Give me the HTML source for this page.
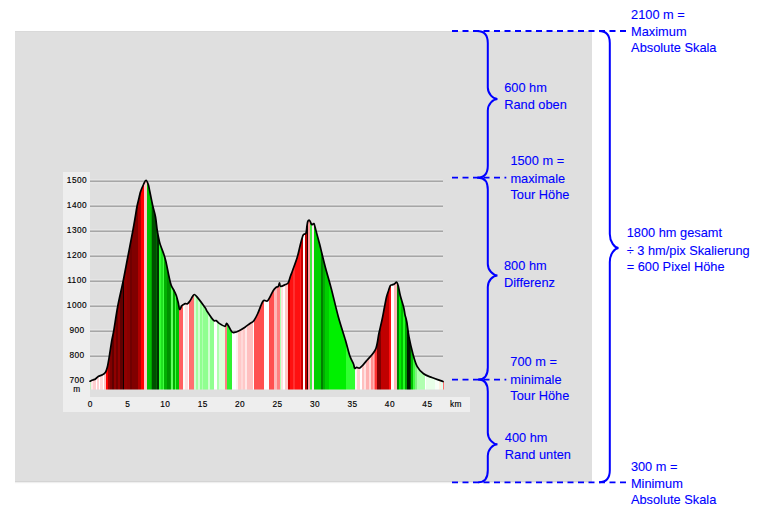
<!DOCTYPE html>
<html><head><meta charset="utf-8"><style>
html,body{margin:0;padding:0;background:#fff;width:759px;height:514px;overflow:hidden}
svg{display:block}
</style></head><body>
<svg width="759" height="514" viewBox="0 0 759 514">
<rect x="15" y="31" width="577" height="451" fill="#dfdfdf"/><rect x="15" y="481" width="577" height="1" fill="#d4d4d4"/><rect x="15" y="31" width="577" height="1" fill="#d9d9d9"/><rect x="15" y="482" width="577" height="1.2" fill="#efefef"/>
<rect x="63" y="172" width="27" height="240" fill="#eeeeee"/>
<rect x="63" y="397" width="407" height="15" fill="#eeeeee"/>
<g stroke="#e7e7e7" stroke-width="1"><line x1="90" y1="179.70000000000002" x2="443" y2="179.70000000000002"/><line x1="90" y1="182.9" x2="443" y2="182.9"/><line x1="90" y1="204.70000000000002" x2="443" y2="204.70000000000002"/><line x1="90" y1="207.9" x2="443" y2="207.9"/><line x1="90" y1="229.70000000000002" x2="443" y2="229.70000000000002"/><line x1="90" y1="232.9" x2="443" y2="232.9"/><line x1="90" y1="254.70000000000002" x2="443" y2="254.70000000000002"/><line x1="90" y1="257.90000000000003" x2="443" y2="257.90000000000003"/><line x1="90" y1="279.7" x2="443" y2="279.7"/><line x1="90" y1="282.90000000000003" x2="443" y2="282.90000000000003"/><line x1="90" y1="304.7" x2="443" y2="304.7"/><line x1="90" y1="307.90000000000003" x2="443" y2="307.90000000000003"/><line x1="90" y1="329.7" x2="443" y2="329.7"/><line x1="90" y1="332.90000000000003" x2="443" y2="332.90000000000003"/><line x1="90" y1="354.7" x2="443" y2="354.7"/><line x1="90" y1="357.90000000000003" x2="443" y2="357.90000000000003"/></g><g stroke="#a6a6a6" stroke-width="1.4"><line x1="90" y1="181.3" x2="443" y2="181.3"/><line x1="90" y1="206.3" x2="443" y2="206.3"/><line x1="90" y1="231.3" x2="443" y2="231.3"/><line x1="90" y1="256.3" x2="443" y2="256.3"/><line x1="90" y1="281.3" x2="443" y2="281.3"/><line x1="90" y1="306.3" x2="443" y2="306.3"/><line x1="90" y1="331.3" x2="443" y2="331.3"/><line x1="90" y1="356.3" x2="443" y2="356.3"/></g>
<g font-family="Liberation Sans, sans-serif" font-size="8.3" fill="#000" stroke="#000" stroke-width="0.15" letter-spacing="0.45"><text x="77" y="183.2" text-anchor="middle">1500</text><text x="77" y="208.2" text-anchor="middle">1400</text><text x="77" y="233.2" text-anchor="middle">1300</text><text x="77" y="258.2" text-anchor="middle">1200</text><text x="77" y="283.2" text-anchor="middle">1100</text><text x="77" y="308.2" text-anchor="middle">1000</text><text x="77" y="333.2" text-anchor="middle">900</text><text x="77" y="358.2" text-anchor="middle">800</text><text x="77" y="383.2" text-anchor="middle">700</text><text x="77" y="392" text-anchor="middle">m</text><text x="90.3" y="407" text-anchor="middle">0</text><text x="127.8" y="407" text-anchor="middle">5</text><text x="165.2" y="407" text-anchor="middle">10</text><text x="202.7" y="407" text-anchor="middle">15</text><text x="240.1" y="407" text-anchor="middle">20</text><text x="277.6" y="407" text-anchor="middle">25</text><text x="315.0" y="407" text-anchor="middle">30</text><text x="352.5" y="407" text-anchor="middle">35</text><text x="389.9" y="407" text-anchor="middle">40</text><text x="427.4" y="407" text-anchor="middle">45</text><text x="456" y="407" text-anchor="middle">km</text></g>
<clipPath id="cp"><path d="M90,381.2 C90.47,381.00 91.88,380.37 92.8,380 C93.72,379.63 94.60,379.60 95.5,379 C96.40,378.40 97.03,377.10 98.2,376.4 C99.37,375.70 101.28,375.50 102.5,374.8 C103.72,374.10 104.70,373.45 105.5,372.2 C106.30,370.95 106.70,369.72 107.3,367.3 C107.90,364.88 108.33,362.25 109.1,357.7 C109.87,353.15 111.10,344.62 111.9,340 C112.70,335.38 112.92,335.67 113.9,330 C114.88,324.33 116.25,314.17 117.8,306 C119.35,297.83 121.57,289.00 123.2,281 C124.83,273.00 126.00,266.33 127.6,258 C129.20,249.67 131.57,237.58 132.8,231 C134.03,224.42 134.30,222.58 135,218.5 C135.70,214.42 136.33,209.92 137,206.5 C137.67,203.08 138.40,200.50 139,198 C139.60,195.50 139.85,193.75 140.6,191.5 C141.35,189.25 142.60,186.37 143.5,184.5 C144.40,182.63 145.20,180.30 146,180.3 C146.80,180.30 147.67,182.63 148.3,184.5 C148.93,186.37 149.05,187.92 149.8,191.5 C150.55,195.08 151.85,201.75 152.8,206 C153.75,210.25 154.75,212.83 155.5,217 C156.25,221.17 156.63,226.83 157.3,231 C157.97,235.17 158.80,239.17 159.5,242 C160.20,244.83 160.77,245.90 161.5,248 C162.23,250.10 163.15,252.28 163.9,254.6 C164.65,256.92 165.15,258.25 166,261.9 C166.85,265.55 168.13,272.60 169,276.5 C169.87,280.40 170.37,282.97 171.2,285.3 C172.03,287.63 173.15,288.80 174,290.5 C174.85,292.20 175.58,293.42 176.3,295.5 C177.02,297.58 177.75,300.70 178.3,303 C178.85,305.30 179.03,308.83 179.6,309.3 C180.17,309.77 181.12,306.55 181.7,305.8 C182.28,305.05 182.48,305.15 183.1,304.8 C183.72,304.45 184.67,303.88 185.4,303.7 C186.13,303.52 186.75,304.15 187.5,303.7 C188.25,303.25 189.07,302.20 189.9,301 C190.73,299.80 191.77,297.58 192.5,296.5 C193.23,295.42 193.55,294.43 194.3,294.5 C195.05,294.57 195.22,294.73 197,296.9 C198.78,299.07 203.30,305.07 205,307.5 C206.70,309.93 205.80,309.38 207.2,311.5 C208.60,313.62 211.92,318.68 213.4,320.2 C214.88,321.72 215.08,320.03 216.1,320.6 C217.12,321.17 218.03,322.65 219.5,323.6 C220.97,324.55 223.65,326.30 224.9,326.3 C226.15,326.30 225.85,322.68 227,323.6 C228.15,324.52 230.55,330.33 231.8,331.8 C233.05,333.27 233.37,332.53 234.5,332.4 C235.63,332.27 236.85,331.87 238.6,331 C240.35,330.13 243.15,328.42 245,327.2 C246.85,325.98 248.23,324.77 249.7,323.7 C251.17,322.63 252.43,322.55 253.8,320.8 C255.17,319.05 256.35,316.50 257.9,313.2 C259.45,309.90 261.45,303.10 263.1,301 C264.75,298.90 266.15,302.27 267.8,300.6 C269.45,298.93 271.63,293.18 273,291 C274.37,288.82 275.12,288.27 276,287.5 C276.88,286.73 277.72,287.17 278.3,286.4 C278.88,285.63 279.12,282.90 279.5,282.9 C279.88,282.90 279.63,286.12 280.6,286.4 C281.57,286.68 284.03,285.18 285.3,284.6 C286.57,284.02 287.32,284.37 288.2,282.9 C289.08,281.43 289.88,277.83 290.6,275.8 C291.32,273.77 291.37,273.88 292.5,270.7 C293.63,267.52 296.07,261.15 297.4,256.7 C298.73,252.25 299.63,247.37 300.5,244 C301.37,240.63 302.08,238.08 302.6,236.5 C303.12,234.92 303.03,235.07 303.6,234.5 C304.17,233.93 305.43,234.58 306,233.1 C306.57,231.62 306.68,227.58 307,225.6 C307.32,223.62 307.50,222.10 307.9,221.2 C308.30,220.30 308.98,220.08 309.4,220.2 C309.82,220.32 310.02,221.17 310.4,221.9 C310.78,222.63 311.23,224.27 311.7,224.6 C312.17,224.93 312.78,223.98 313.2,223.9 C313.62,223.82 313.75,223.02 314.2,224.1 C314.65,225.18 315.05,227.25 315.9,230.4 C316.75,233.55 318.48,239.92 319.3,243 C320.12,246.08 319.78,244.82 320.8,248.9 C321.82,252.98 323.65,260.87 325.4,267.5 C327.15,274.13 329.15,280.50 331.3,288.7 C333.45,296.90 335.95,308.15 338.3,316.7 C340.65,325.25 343.50,333.53 345.4,340 C347.30,346.47 348.35,351.50 349.7,355.5 C351.05,359.50 352.68,361.88 353.5,364 C354.32,366.12 354.07,367.63 354.6,368.2 C355.13,368.77 355.77,367.48 356.7,367.4 C357.63,367.32 358.65,368.70 360.2,367.7 C361.75,366.70 363.47,364.40 366,361.4 C368.53,358.40 373.25,354.37 375.4,349.7 C377.55,345.03 377.80,338.35 378.9,333.4 C380.00,328.45 381.07,324.40 382,320 C382.93,315.60 383.75,310.83 384.5,307 C385.25,303.17 385.82,299.77 386.5,297 C387.18,294.23 387.97,292.30 388.6,290.4 C389.23,288.50 389.73,286.52 390.3,285.6 C390.87,284.68 391.32,285.18 392,284.9 C392.68,284.62 393.62,284.35 394.4,283.9 C395.18,283.45 396.07,281.92 396.7,282.2 C397.33,282.48 397.62,283.43 398.2,285.6 C398.78,287.77 399.30,291.63 400.2,295.2 C401.10,298.77 402.80,303.75 403.6,307 C404.40,310.25 404.47,312.20 405,314.7 C405.53,317.20 406.13,318.30 406.8,322 C407.47,325.70 408.00,331.65 409,336.9 C410.00,342.15 411.45,348.58 412.8,353.5 C414.15,358.42 415.30,363.02 417.1,366.4 C418.90,369.78 421.13,371.95 423.6,373.8 C426.07,375.65 428.67,376.22 431.9,377.5 C435.13,378.78 441.15,380.83 443,381.5 L444,381.5 L444,389.5 L90,389.5 Z"/></clipPath>
<g clip-path="url(#cp)" shape-rendering="crispEdges"><rect x="90" y="170" width="0.85" height="219.5" fill="#c0f0c0"/><rect x="90.8" y="170" width="2.05" height="219.5" fill="#ffe8e8"/><rect x="92.8" y="170" width="2.75" height="219.5" fill="#ffd0d0"/><rect x="95.5" y="170" width="1.25" height="219.5" fill="#ffffff"/><rect x="96.7" y="170" width="2.45" height="219.5" fill="#ffd0d0"/><rect x="99.1" y="170" width="1.25" height="219.5" fill="#ffffff"/><rect x="100.3" y="170" width="2.35" height="219.5" fill="#ffd8d8"/><rect x="102.6" y="170" width="1.25" height="219.5" fill="#ffffff"/><rect x="103.8" y="170" width="2.05" height="219.5" fill="#ffc0c0"/><rect x="105.8" y="170" width="2.05" height="219.5" fill="#ff0000"/><rect x="107.8" y="170" width="1.95" height="219.5" fill="#a00000"/><rect x="109.7" y="170" width="2.05" height="219.5" fill="#800000"/><rect x="111.7" y="170" width="2.45" height="219.5" fill="#600000"/><rect x="114.1" y="170" width="1.65" height="219.5" fill="#900000"/><rect x="115.7" y="170" width="2.35" height="219.5" fill="#700000"/><rect x="118" y="170" width="2.45" height="219.5" fill="#900000"/><rect x="120.4" y="170" width="2.45" height="219.5" fill="#600000"/><rect x="122.8" y="170" width="1.65" height="219.5" fill="#100000"/><rect x="124.4" y="170" width="2.35" height="219.5" fill="#900000"/><rect x="126.7" y="170" width="3.25" height="219.5" fill="#880000"/><rect x="129.9" y="170" width="2.45" height="219.5" fill="#700000"/><rect x="132.3" y="170" width="3.15" height="219.5" fill="#800000"/><rect x="135.4" y="170" width="2.45" height="219.5" fill="#800000"/><rect x="137.8" y="170" width="3.25" height="219.5" fill="#b00000"/><rect x="141" y="170" width="2.75" height="219.5" fill="#ff0000"/><rect x="143.7" y="170" width="2.95" height="219.5" fill="#ffc8c8"/><rect x="146.6" y="170" width="4.15" height="219.5" fill="#00c000"/><rect x="150.7" y="170" width="1.25" height="219.5" fill="#00a000"/><rect x="151.9" y="170" width="3.65" height="219.5" fill="#005000"/><rect x="155.5" y="170" width="1.25" height="219.5" fill="#006800"/><rect x="156.7" y="170" width="2.35" height="219.5" fill="#003000"/><rect x="159" y="170" width="2.05" height="219.5" fill="#30ff30"/><rect x="161" y="170" width="1.55" height="219.5" fill="#20e020"/><rect x="162.5" y="170" width="1.75" height="219.5" fill="#40ff40"/><rect x="164.2" y="170" width="2.85" height="219.5" fill="#00b000"/><rect x="167" y="170" width="2.55" height="219.5" fill="#009000"/><rect x="169.5" y="170" width="1.85" height="219.5" fill="#00b000"/><rect x="171.3" y="170" width="1.25" height="219.5" fill="#60ff60"/><rect x="172.5" y="170" width="2.45" height="219.5" fill="#00b000"/><rect x="174.9" y="170" width="1.15" height="219.5" fill="#40ff40"/><rect x="176" y="170" width="3.25" height="219.5" fill="#00c000"/><rect x="179.2" y="170" width="4.05" height="219.5" fill="#ff6060"/><rect x="183.2" y="170" width="1.95" height="219.5" fill="#f8fff8"/><rect x="185.1" y="170" width="2.85" height="219.5" fill="#ffe0e0"/><rect x="187.9" y="170" width="0.85" height="219.5" fill="#ffffff"/><rect x="188.7" y="170" width="5.55" height="219.5" fill="#ff7070"/><rect x="194.2" y="170" width="1.65" height="219.5" fill="#d0ffd0"/><rect x="195.8" y="170" width="2.45" height="219.5" fill="#a0ffa0"/><rect x="198.2" y="170" width="1.65" height="219.5" fill="#d0ffd0"/><rect x="199.8" y="170" width="2.25" height="219.5" fill="#90ff90"/><rect x="202" y="170" width="1.05" height="219.5" fill="#b0ffb0"/><rect x="203" y="170" width="5.05" height="219.5" fill="#90ff90"/><rect x="208" y="170" width="1.95" height="219.5" fill="#d0ffd0"/><rect x="209.9" y="170" width="4.05" height="219.5" fill="#90ff90"/><rect x="213.9" y="170" width="3.15" height="219.5" fill="#ffffff"/><rect x="217" y="170" width="2.05" height="219.5" fill="#b0ffb0"/><rect x="219" y="170" width="6.05" height="219.5" fill="#dcffdc"/><rect x="225" y="170" width="2.35" height="219.5" fill="#ff8080"/><rect x="227.3" y="170" width="4.85" height="219.5" fill="#30f030"/><rect x="232.1" y="170" width="3.55" height="219.5" fill="#ffffff"/><rect x="235.6" y="170" width="2.45" height="219.5" fill="#fff0f0"/><rect x="238" y="170" width="3.05" height="219.5" fill="#ffc8c8"/><rect x="241" y="170" width="2.05" height="219.5" fill="#ffd8d8"/><rect x="243" y="170" width="2.15" height="219.5" fill="#ffc8c8"/><rect x="245.1" y="170" width="2.05" height="219.5" fill="#ffe8e8"/><rect x="247.1" y="170" width="5.55" height="219.5" fill="#ffc0c0"/><rect x="252.6" y="170" width="1.65" height="219.5" fill="#ffffff"/><rect x="254.2" y="170" width="9.85" height="219.5" fill="#ff5050"/><rect x="264" y="170" width="4.75" height="219.5" fill="#ffffff"/><rect x="268.7" y="170" width="5.25" height="219.5" fill="#ff5050"/><rect x="273.9" y="170" width="2.65" height="219.5" fill="#ffb8b8"/><rect x="276.5" y="170" width="0.95" height="219.5" fill="#ffffff"/><rect x="277.4" y="170" width="2.45" height="219.5" fill="#ff8080"/><rect x="279.8" y="170" width="1.25" height="219.5" fill="#b0ffb0"/><rect x="281" y="170" width="2.05" height="219.5" fill="#ffe0e0"/><rect x="283" y="170" width="2.05" height="219.5" fill="#ffffff"/><rect x="285" y="170" width="3.15" height="219.5" fill="#ffc8c8"/><rect x="288.1" y="170" width="1.65" height="219.5" fill="#d00000"/><rect x="289.7" y="170" width="3.35" height="219.5" fill="#ff1010"/><rect x="293" y="170" width="2.05" height="219.5" fill="#ff3030"/><rect x="295" y="170" width="5.05" height="219.5" fill="#ff1010"/><rect x="300" y="170" width="1.25" height="219.5" fill="#ff2020"/><rect x="301.2" y="170" width="2.25" height="219.5" fill="#c80000"/><rect x="303.4" y="170" width="1.95" height="219.5" fill="#ffffff"/><rect x="305.3" y="170" width="1.25" height="219.5" fill="#c00000"/><rect x="306.5" y="170" width="1.65" height="219.5" fill="#200000"/><rect x="308.1" y="170" width="1.55" height="219.5" fill="#ffa0a0"/><rect x="309.6" y="170" width="2.25" height="219.5" fill="#40ee40"/><rect x="311.8" y="170" width="2.55" height="219.5" fill="#ffe8f0"/><rect x="314.3" y="170" width="6.85" height="219.5" fill="#00d000"/><rect x="321.1" y="170" width="1.95" height="219.5" fill="#008000"/><rect x="323" y="170" width="2.05" height="219.5" fill="#00b000"/><rect x="325" y="170" width="3.75" height="219.5" fill="#00d000"/><rect x="328.7" y="170" width="17.45" height="219.5" fill="#00f000"/><rect x="346.1" y="170" width="8.75" height="219.5" fill="#30ff30"/><rect x="354.8" y="170" width="2.45" height="219.5" fill="#fff4f4"/><rect x="357.2" y="170" width="2.75" height="219.5" fill="#ffd0d0"/><rect x="359.9" y="170" width="1.75" height="219.5" fill="#ffffff"/><rect x="361.6" y="170" width="2.75" height="219.5" fill="#ffc0c0"/><rect x="364.3" y="170" width="1.85" height="219.5" fill="#ffe0e0"/><rect x="366.1" y="170" width="2.75" height="219.5" fill="#ffb0b0"/><rect x="368.8" y="170" width="1.85" height="219.5" fill="#ffd8d8"/><rect x="370.6" y="170" width="1.95" height="219.5" fill="#ff9090"/><rect x="372.5" y="170" width="1.05" height="219.5" fill="#ffb0b0"/><rect x="373.5" y="170" width="1.65" height="219.5" fill="#ff8080"/><rect x="375.1" y="170" width="1.85" height="219.5" fill="#ff3030"/><rect x="376.9" y="170" width="4.55" height="219.5" fill="#800000"/><rect x="381.4" y="170" width="7.15" height="219.5" fill="#c00000"/><rect x="388.5" y="170" width="2.75" height="219.5" fill="#ff1010"/><rect x="391.2" y="170" width="2.75" height="219.5" fill="#ffffff"/><rect x="393.9" y="170" width="3.45" height="219.5" fill="#ffb8b8"/><rect x="397.3" y="170" width="1.75" height="219.5" fill="#008000"/><rect x="399" y="170" width="2.05" height="219.5" fill="#00f000"/><rect x="401" y="170" width="2.05" height="219.5" fill="#00c000"/><rect x="403" y="170" width="2.05" height="219.5" fill="#20ff20"/><rect x="405" y="170" width="1.75" height="219.5" fill="#00a000"/><rect x="406.7" y="170" width="3.35" height="219.5" fill="#001800"/><rect x="410" y="170" width="1.25" height="219.5" fill="#005000"/><rect x="411.2" y="170" width="1.85" height="219.5" fill="#00c000"/><rect x="413" y="170" width="2.05" height="219.5" fill="#40ff40"/><rect x="415" y="170" width="1.55" height="219.5" fill="#80f080"/><rect x="416.5" y="170" width="8.15" height="219.5" fill="#b0ffb0"/><rect x="424.6" y="170" width="1.85" height="219.5" fill="#ffffff"/><rect x="426.4" y="170" width="8.95" height="219.5" fill="#e8ffe8"/><rect x="435.3" y="170" width="3.65" height="219.5" fill="#f8fff8"/><rect x="438.9" y="170" width="1.85" height="219.5" fill="#fff0e0"/><rect x="440.7" y="170" width="1.85" height="219.5" fill="#e0fff0"/><rect x="442.5" y="170" width="1.55" height="219.5" fill="#ff7070"/></g>
<path d="M90,381.2 C90.47,381.00 91.88,380.37 92.8,380 C93.72,379.63 94.60,379.60 95.5,379 C96.40,378.40 97.03,377.10 98.2,376.4 C99.37,375.70 101.28,375.50 102.5,374.8 C103.72,374.10 104.70,373.45 105.5,372.2 C106.30,370.95 106.70,369.72 107.3,367.3 C107.90,364.88 108.33,362.25 109.1,357.7 C109.87,353.15 111.10,344.62 111.9,340 C112.70,335.38 112.92,335.67 113.9,330 C114.88,324.33 116.25,314.17 117.8,306 C119.35,297.83 121.57,289.00 123.2,281 C124.83,273.00 126.00,266.33 127.6,258 C129.20,249.67 131.57,237.58 132.8,231 C134.03,224.42 134.30,222.58 135,218.5 C135.70,214.42 136.33,209.92 137,206.5 C137.67,203.08 138.40,200.50 139,198 C139.60,195.50 139.85,193.75 140.6,191.5 C141.35,189.25 142.60,186.37 143.5,184.5 C144.40,182.63 145.20,180.30 146,180.3 C146.80,180.30 147.67,182.63 148.3,184.5 C148.93,186.37 149.05,187.92 149.8,191.5 C150.55,195.08 151.85,201.75 152.8,206 C153.75,210.25 154.75,212.83 155.5,217 C156.25,221.17 156.63,226.83 157.3,231 C157.97,235.17 158.80,239.17 159.5,242 C160.20,244.83 160.77,245.90 161.5,248 C162.23,250.10 163.15,252.28 163.9,254.6 C164.65,256.92 165.15,258.25 166,261.9 C166.85,265.55 168.13,272.60 169,276.5 C169.87,280.40 170.37,282.97 171.2,285.3 C172.03,287.63 173.15,288.80 174,290.5 C174.85,292.20 175.58,293.42 176.3,295.5 C177.02,297.58 177.75,300.70 178.3,303 C178.85,305.30 179.03,308.83 179.6,309.3 C180.17,309.77 181.12,306.55 181.7,305.8 C182.28,305.05 182.48,305.15 183.1,304.8 C183.72,304.45 184.67,303.88 185.4,303.7 C186.13,303.52 186.75,304.15 187.5,303.7 C188.25,303.25 189.07,302.20 189.9,301 C190.73,299.80 191.77,297.58 192.5,296.5 C193.23,295.42 193.55,294.43 194.3,294.5 C195.05,294.57 195.22,294.73 197,296.9 C198.78,299.07 203.30,305.07 205,307.5 C206.70,309.93 205.80,309.38 207.2,311.5 C208.60,313.62 211.92,318.68 213.4,320.2 C214.88,321.72 215.08,320.03 216.1,320.6 C217.12,321.17 218.03,322.65 219.5,323.6 C220.97,324.55 223.65,326.30 224.9,326.3 C226.15,326.30 225.85,322.68 227,323.6 C228.15,324.52 230.55,330.33 231.8,331.8 C233.05,333.27 233.37,332.53 234.5,332.4 C235.63,332.27 236.85,331.87 238.6,331 C240.35,330.13 243.15,328.42 245,327.2 C246.85,325.98 248.23,324.77 249.7,323.7 C251.17,322.63 252.43,322.55 253.8,320.8 C255.17,319.05 256.35,316.50 257.9,313.2 C259.45,309.90 261.45,303.10 263.1,301 C264.75,298.90 266.15,302.27 267.8,300.6 C269.45,298.93 271.63,293.18 273,291 C274.37,288.82 275.12,288.27 276,287.5 C276.88,286.73 277.72,287.17 278.3,286.4 C278.88,285.63 279.12,282.90 279.5,282.9 C279.88,282.90 279.63,286.12 280.6,286.4 C281.57,286.68 284.03,285.18 285.3,284.6 C286.57,284.02 287.32,284.37 288.2,282.9 C289.08,281.43 289.88,277.83 290.6,275.8 C291.32,273.77 291.37,273.88 292.5,270.7 C293.63,267.52 296.07,261.15 297.4,256.7 C298.73,252.25 299.63,247.37 300.5,244 C301.37,240.63 302.08,238.08 302.6,236.5 C303.12,234.92 303.03,235.07 303.6,234.5 C304.17,233.93 305.43,234.58 306,233.1 C306.57,231.62 306.68,227.58 307,225.6 C307.32,223.62 307.50,222.10 307.9,221.2 C308.30,220.30 308.98,220.08 309.4,220.2 C309.82,220.32 310.02,221.17 310.4,221.9 C310.78,222.63 311.23,224.27 311.7,224.6 C312.17,224.93 312.78,223.98 313.2,223.9 C313.62,223.82 313.75,223.02 314.2,224.1 C314.65,225.18 315.05,227.25 315.9,230.4 C316.75,233.55 318.48,239.92 319.3,243 C320.12,246.08 319.78,244.82 320.8,248.9 C321.82,252.98 323.65,260.87 325.4,267.5 C327.15,274.13 329.15,280.50 331.3,288.7 C333.45,296.90 335.95,308.15 338.3,316.7 C340.65,325.25 343.50,333.53 345.4,340 C347.30,346.47 348.35,351.50 349.7,355.5 C351.05,359.50 352.68,361.88 353.5,364 C354.32,366.12 354.07,367.63 354.6,368.2 C355.13,368.77 355.77,367.48 356.7,367.4 C357.63,367.32 358.65,368.70 360.2,367.7 C361.75,366.70 363.47,364.40 366,361.4 C368.53,358.40 373.25,354.37 375.4,349.7 C377.55,345.03 377.80,338.35 378.9,333.4 C380.00,328.45 381.07,324.40 382,320 C382.93,315.60 383.75,310.83 384.5,307 C385.25,303.17 385.82,299.77 386.5,297 C387.18,294.23 387.97,292.30 388.6,290.4 C389.23,288.50 389.73,286.52 390.3,285.6 C390.87,284.68 391.32,285.18 392,284.9 C392.68,284.62 393.62,284.35 394.4,283.9 C395.18,283.45 396.07,281.92 396.7,282.2 C397.33,282.48 397.62,283.43 398.2,285.6 C398.78,287.77 399.30,291.63 400.2,295.2 C401.10,298.77 402.80,303.75 403.6,307 C404.40,310.25 404.47,312.20 405,314.7 C405.53,317.20 406.13,318.30 406.8,322 C407.47,325.70 408.00,331.65 409,336.9 C410.00,342.15 411.45,348.58 412.8,353.5 C414.15,358.42 415.30,363.02 417.1,366.4 C418.90,369.78 421.13,371.95 423.6,373.8 C426.07,375.65 428.67,376.22 431.9,377.5 C435.13,378.78 441.15,380.83 443,381.5" fill="none" stroke="#000" stroke-width="1.7" stroke-linejoin="round" stroke-linecap="round"/>
<g stroke="#0000ff" stroke-width="1.8" stroke-dasharray="6 4.5"><line x1="452" y1="31" x2="627" y2="31"/><line x1="452" y1="177.7" x2="506.3" y2="177.7"/><line x1="452" y1="379.6" x2="506.3" y2="379.6"/><line x1="452" y1="482.3" x2="627" y2="482.3"/></g>
<g stroke="#0000ff" stroke-width="2" fill="none"><path d="M477,31 Q487.8,31 487.8,43 L487.8,87.5 C487.8,93.83 493.13,99 497.5,99 C493.13,99 487.8,104.17 487.8,110.5 L487.8,165.7 Q487.8,177.7 477,177.7"/><path d="M478.4,177.7 Q487.8,177.7 487.8,189.7 L487.8,263.9 C487.8,270.22 493.13,275.4 497.5,275.4 C493.13,275.4 487.8,280.57 487.8,286.9 L487.8,367.6 Q487.8,379.6 478.4,379.6"/><path d="M478.4,379.6 Q487.8,379.6 487.8,391.6 L487.8,432.8 C487.8,439.12 493.13,444.3 497.5,444.3 C493.13,444.3 487.8,449.48 487.8,455.8 L487.8,470.3 Q487.8,482.3 478.4,482.3"/><path d="M599,31 Q609.8,31 609.8,43 L609.8,234 C609.8,241.70 614.64,248 618.6,248 C614.64,248 609.8,254.30 609.8,262 L609.8,470.3 Q609.8,482.3 599,482.3"/></g>
<g font-family="Liberation Sans, sans-serif" font-size="12.8" fill="#0000ff" stroke="#0000ff" stroke-width="0.1"><text x="631.1" y="18.8">2100 m =</text><text x="631.1" y="35.7">Maximum</text><text x="631.1" y="52.1">Absolute Skala</text><text x="504.2" y="91.8">600 hm</text><text x="504.2" y="108.9">Rand oben</text><text x="510.4" y="165.3">1500 m =</text><text x="510.4" y="182.8">maximale</text><text x="510.4" y="198.8">Tour Höhe</text><text x="504.0" y="269.5">800 hm</text><text x="504.0" y="286.7">Differenz</text><text x="510.3" y="366.3">700 m =</text><text x="510.3" y="383.6">minimale</text><text x="510.3" y="400.0">Tour Höhe</text><text x="504.8" y="442.2">400 hm</text><text x="504.8" y="459.3">Rand unten</text><text x="626.7" y="237.4">1800 hm gesamt</text><text x="626.7" y="254.6">÷ 3 hm/pix Skalierung</text><text x="626.7" y="270.6">= 600 Pixel Höhe</text><text x="630.9000000000001" y="470.5">300 m =</text><text x="630.9000000000001" y="487.9">Minimum</text><text x="630.9000000000001" y="504.0">Absolute Skala</text></g>
</svg>
</body></html>
